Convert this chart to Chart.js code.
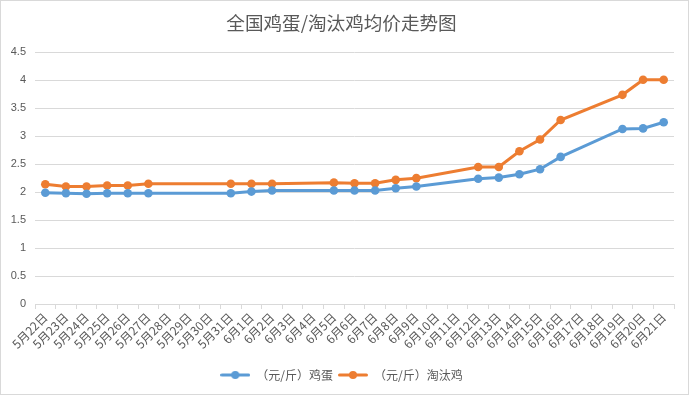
<!DOCTYPE html>
<html>
<head>
<meta charset="utf-8">
<script src="https://cdn.jsdelivr.net/npm/chart.js@4.4.1/dist/chart.umd.min.js"></script>
<style>
html,body{margin:0;padding:0;background:#fff;}
#wrap{width:689px;height:395px;position:relative;}
</style>
</head>
<body>
<div id="wrap"><canvas id="c" width="689" height="395"></canvas></div>
<script>
const chartTitle = '全国鸡蛋/淘汰鸡均价走势图';
const categories = ['5月22日','5月23日','5月24日','5月25日','5月26日','5月27日','5月28日','5月29日','5月30日','5月31日',
  '6月1日','6月2日','6月3日','6月4日','6月5日','6月6日','6月7日','6月8日','6月9日','6月10日',
  '6月11日','6月12日','6月13日','6月14日','6月15日','6月16日','6月17日','6月18日','6月19日','6月20日','6月21日'];
const eggLabel = '（元/斤）鸡蛋';
const eggValues = [1.99,1.98,1.97,1.98,1.98,1.98,null,null,null,1.98,
  2.01,2.03,null,null,2.03,2.03,2.03,2.07,2.10,null,
  null,2.24,2.26,2.32,2.41,2.63,null,null,3.13,3.14,3.25];
const henLabel = '（元/斤）淘汰鸡';
const henValues = [2.14,2.10,2.10,2.12,2.12,2.15,null,null,null,2.15,
  2.15,2.15,null,null,2.17,2.16,2.16,2.22,2.25,null,
  null,2.45,2.45,2.73,2.94,3.29,null,null,3.74,4.01,4.01];
const yTicks = [0,0.5,1,1.5,2,2.5,3,3.5,4,4.5];

const BLUE = '#5B9BD5', ORANGE = '#ED7D31', TXT = '#595959', GRID = '#d9d9d9';

function legendMarker(color){
  const cv = document.createElement('canvas');
  cv.width = 30; cv.height = 10;
  const g = cv.getContext('2d');
  g.strokeStyle = color; g.lineWidth = 3; g.lineCap = 'round';
  g.beginPath(); g.moveTo(1.5,5); g.lineTo(28.5,5); g.stroke();
  g.fillStyle = color;
  g.beginPath(); g.arc(15,5,4,0,Math.PI*2); g.fill();
  return cv;
}

const borderPlugin = {
  id: 'outerBorder',
  afterDraw(chart){
    const ctx = chart.ctx;
    ctx.save();
    ctx.strokeStyle = GRID; ctx.lineWidth = 1;
    ctx.strokeRect(0.5,0.5,chart.width-1,chart.height-1);
    ctx.restore();
  }
};

new Chart(document.getElementById('c'), {
  type: 'line',
  data: {
    labels: categories,
    datasets: [
      {label: eggLabel, data: eggValues, borderColor: BLUE, backgroundColor: BLUE,
       pointBackgroundColor: BLUE, pointBorderColor: BLUE, borderWidth: 3, pointRadius: 4.3, pointBorderWidth: 0,
       pointStyle: 'circle', spanGaps: true, tension: 0},
      {label: henLabel, data: henValues, borderColor: ORANGE, backgroundColor: ORANGE,
       pointBackgroundColor: ORANGE, pointBorderColor: ORANGE, borderWidth: 3, pointRadius: 4.3, pointBorderWidth: 0,
       pointStyle: 'circle', spanGaps: true, tension: 0}
    ]
  },
  options: {
    responsive: false,
    animation: false,
    devicePixelRatio: 1,
    layout: {padding: {left: 9, right: 15, top: 0, bottom: 4}},
    plugins: {
      title: {display: true, text: chartTitle, color: TXT,
        font: {family: '"Noto Sans CJK SC", sans-serif', size: 18.6, weight: 'normal'},
        padding: {top: 12, bottom: 18}},
      legend: {position: 'bottom',
        labels: {
          color: TXT, usePointStyle: true, pointStyleWidth: 30, padding: 5,
          font: {family: '"Noto Sans CJK SC", sans-serif', size: 12},
          generateLabels(chart){
            return chart.data.datasets.map((ds,i)=>({
              text: ds.label, fillStyle: ds.borderColor, strokeStyle: ds.borderColor,
              lineWidth: 0, pointStyle: legendMarker(ds.borderColor), datasetIndex: i,
              hidden: false, fontColor: TXT
            }));
          }
        }},
      tooltip: {enabled: false}
    },
    scales: {
      x: {
        offset: true,
        afterFit(scale){ scale.height = 60; },
        grid: {display: true, drawOnChartArea: false, drawTicks: true, tickLength: 5, color: GRID, offset: true},
        border: {display: true, color: GRID},
        ticks: {color: TXT, minRotation: 45, maxRotation: 45, autoSkip: false, padding: 1,
          font: {family: '"Noto Sans CJK SC", sans-serif', size: 12}}
      },
      y: {
        min: 0, max: 4.5,
        afterBuildTicks(scale){ scale.ticks = yTicks.map(v=>({value:v})); },
        afterFit(scale){ scale.width = 26; },
        grid: {color: GRID, drawTicks: false},
        border: {display: false},
        ticks: {color: TXT, padding: 9, callback: v => String(v),
          font: {family: '"Liberation Sans", Arial, sans-serif', size: 11}}
      }
    }
  },
  plugins: [borderPlugin]
});
</script>
</body>
</html>
